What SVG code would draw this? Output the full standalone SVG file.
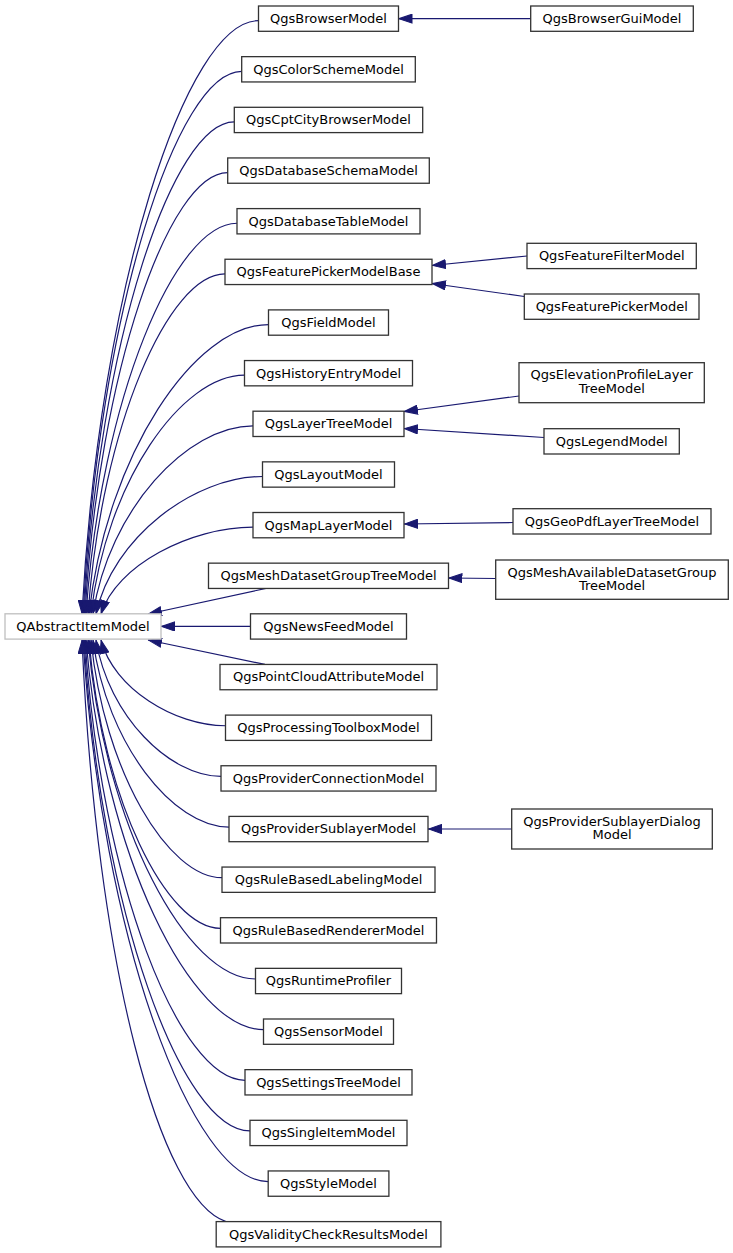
<svg xmlns="http://www.w3.org/2000/svg" width="733" height="1253" viewBox="0 0 733 1253">
<style>
.n rect{fill:#fff;stroke:#333;stroke-width:1.3}
.ext rect{fill:#fff;stroke:#bfbfbf;stroke-width:1.3}
text{font-family:"DejaVu Sans","Liberation Sans",sans-serif;font-size:13px;fill:#000;text-anchor:middle}
#edges path{fill:none;stroke:#191970;stroke-width:1.2;marker-end:url(#arr)}
</style>
<defs>
<marker id="arr" markerUnits="userSpaceOnUse" markerWidth="14" markerHeight="10" viewBox="0 0 13.5 9.6" refX="13.5" refY="4.8" orient="auto"><path d="M0.5,0.5 L13,4.8 L0.5,9.1 z" fill="#191970" stroke="#191970" stroke-width="1"/></marker>
</defs>
<rect width="733" height="1253" fill="#fff"/>
<g id="edges">
<path d="M258.5,20.65 C186.1,20.65 99.65,286.6 82,614"/>
<path d="M241.7,71.3 C176.6,71.3 98.9,314.4 83,614"/>
<path d="M234.3,121.95 C172.7,121.95 99,342.3 84,614"/>
<path d="M227.7,172.6 C169.2,172.6 99.3,370.1 85,614"/>
<path d="M237,223.25 C175.1,223.25 101.1,398 86,614"/>
<path d="M225,273.9 C168.8,273.9 101.7,425.8 88,614"/>
<path d="M268.5,324.55 C194.9,324.55 107,453.7 89,614"/>
<path d="M244.5,375.2 C181.6,375.2 106.4,481.6 91,614"/>
<path d="M253,425.85 C187.4,425.85 109,509.4 93,614"/>
<path d="M262.5,476.5 C194.2,476.5 112.7,537.3 96,614"/>
<path d="M253,527.15 C190.7,527.15 116.2,565.1 101,614"/>
<path d="M266,588.4 L148,614"/>
<path d="M250.5,626.45 L161,626.45"/>
<path d="M265,664.45 L148,640"/>
<path d="M225.5,725.75 C174.5,725.75 113.5,688.3 101,640"/>
<path d="M221,776.4 C169.7,776.4 108.5,716.1 96,640"/>
<path d="M229,827.05 C173.2,827.05 106.6,744 93,640"/>
<path d="M222,877.7 C168.3,877.7 104.1,771.8 91,640"/>
<path d="M220.5,928.35 C166.6,928.35 102.2,799.7 89,640"/>
<path d="M255.5,979 C186.8,979 104.8,827.5 88,640"/>
<path d="M263.5,1029.65 C190.7,1029.65 103.8,855.4 86,640"/>
<path d="M245,1080.3 C179.4,1080.3 101,883.3 85,640"/>
<path d="M250,1130.95 C181.9,1130.95 100.6,911.1 84,640"/>
<path d="M268.2,1181.6 C192.3,1181.6 101.5,939 83,640"/>
<path d="M226,1221.6 C160,1200 96.4,966.8 82,640"/>
<path d="M530.7,18.65 L398.5,18.65"/>
<path d="M527,256 L432,265.5"/>
<path d="M524.3,296.5 L432,283.5"/>
<path d="M519,396 L404,411.5"/>
<path d="M544,437.5 L404,428.5"/>
<path d="M513,522.5 L404,524"/>
<path d="M495.7,578.5 L448.5,578"/>
<path d="M511.7,829 L428,829"/>
</g>
<g id="QAbstractItemModel" class="ext"><rect x="5" y="613.8" width="156" height="25.3"/><text x="83" y="630.8">QAbstractItemModel</text></g>
<g id="QgsBrowserModel" class="n"><rect x="258.5" y="6" width="140" height="25.3"/><text x="328.5" y="23">QgsBrowserModel</text></g>
<g id="QgsColorSchemeModel" class="n"><rect x="241.7" y="56.65" width="173.6" height="25.3"/><text x="328.5" y="73.65">QgsColorSchemeModel</text></g>
<g id="QgsCptCityBrowserModel" class="n"><rect x="234.3" y="107.3" width="188.4" height="25.3"/><text x="328.5" y="124.3">QgsCptCityBrowserModel</text></g>
<g id="QgsDatabaseSchemaModel" class="n"><rect x="227.7" y="157.95" width="201.6" height="25.3"/><text x="328.5" y="174.95">QgsDatabaseSchemaModel</text></g>
<g id="QgsDatabaseTableModel" class="n"><rect x="237" y="208.6" width="183" height="25.3"/><text x="328.5" y="225.6">QgsDatabaseTableModel</text></g>
<g id="QgsFeaturePickerModelBase" class="n"><rect x="225" y="259.25" width="207" height="25.3"/><text x="328.5" y="276.25">QgsFeaturePickerModelBase</text></g>
<g id="QgsFieldModel" class="n"><rect x="268.5" y="309.9" width="120" height="25.3"/><text x="328.5" y="326.9">QgsFieldModel</text></g>
<g id="QgsHistoryEntryModel" class="n"><rect x="244.5" y="360.55" width="168" height="25.3"/><text x="328.5" y="377.55">QgsHistoryEntryModel</text></g>
<g id="QgsLayerTreeModel" class="n"><rect x="253" y="411.2" width="151" height="25.3"/><text x="328.5" y="428.2">QgsLayerTreeModel</text></g>
<g id="QgsLayoutModel" class="n"><rect x="262.5" y="461.85" width="132" height="25.3"/><text x="328.5" y="478.85">QgsLayoutModel</text></g>
<g id="QgsMapLayerModel" class="n"><rect x="253" y="512.5" width="151" height="25.3"/><text x="328.5" y="529.5">QgsMapLayerModel</text></g>
<g id="QgsMeshDatasetGroupTreeModel" class="n"><rect x="208.5" y="563.15" width="240" height="25.3"/><text x="328.5" y="580.15">QgsMeshDatasetGroupTreeModel</text></g>
<g id="QgsNewsFeedModel" class="n"><rect x="250.5" y="613.8" width="156" height="25.3"/><text x="328.5" y="630.8">QgsNewsFeedModel</text></g>
<g id="QgsPointCloudAttributeModel" class="n"><rect x="220" y="664.45" width="217" height="25.3"/><text x="328.5" y="681.45">QgsPointCloudAttributeModel</text></g>
<g id="QgsProcessingToolboxModel" class="n"><rect x="225.5" y="715.1" width="206" height="25.3"/><text x="328.5" y="732.1">QgsProcessingToolboxModel</text></g>
<g id="QgsProviderConnectionModel" class="n"><rect x="221" y="765.75" width="215" height="25.3"/><text x="328.5" y="782.75">QgsProviderConnectionModel</text></g>
<g id="QgsProviderSublayerModel" class="n"><rect x="229" y="816.4" width="199" height="25.3"/><text x="328.5" y="833.4">QgsProviderSublayerModel</text></g>
<g id="QgsRuleBasedLabelingModel" class="n"><rect x="222" y="867.05" width="213" height="25.3"/><text x="328.5" y="884.05">QgsRuleBasedLabelingModel</text></g>
<g id="QgsRuleBasedRendererModel" class="n"><rect x="220.5" y="917.7" width="216" height="25.3"/><text x="328.5" y="934.7">QgsRuleBasedRendererModel</text></g>
<g id="QgsRuntimeProfiler" class="n"><rect x="255.5" y="968.35" width="146" height="25.3"/><text x="328.5" y="985.35">QgsRuntimeProfiler</text></g>
<g id="QgsSensorModel" class="n"><rect x="263.5" y="1019" width="130" height="25.3"/><text x="328.5" y="1036">QgsSensorModel</text></g>
<g id="QgsSettingsTreeModel" class="n"><rect x="245" y="1069.65" width="167" height="25.3"/><text x="328.5" y="1086.65">QgsSettingsTreeModel</text></g>
<g id="QgsSingleItemModel" class="n"><rect x="250" y="1120.3" width="157" height="25.3"/><text x="328.5" y="1137.3">QgsSingleItemModel</text></g>
<g id="QgsStyleModel" class="n"><rect x="268.2" y="1170.95" width="120.7" height="25.3"/><text x="328.5" y="1187.95">QgsStyleModel</text></g>
<g id="QgsValidityCheckResultsModel" class="n"><rect x="216.2" y="1221.6" width="224.7" height="25.3"/><text x="328.5" y="1238.6">QgsValidityCheckResultsModel</text></g>
<g id="QgsBrowserGuiModel" class="n"><rect x="530.7" y="6" width="162.6" height="25.3"/><text x="612" y="23">QgsBrowserGuiModel</text></g>
<g id="QgsFeatureFilterModel" class="n"><rect x="527" y="243.3" width="169.3" height="25.3"/><text x="611.7" y="260.3">QgsFeatureFilterModel</text></g>
<g id="QgsFeaturePickerModel" class="n"><rect x="524.3" y="294" width="174.7" height="25.3"/><text x="611.7" y="311">QgsFeaturePickerModel</text></g>
<g id="QgsElevationProfileLayerTreeModel" class="n"><rect x="519" y="362.7" width="185.3" height="40"/><text x="611.7" y="379.3">QgsElevationProfileLayer</text><text x="611.7" y="392.7">TreeModel</text></g>
<g id="QgsLegendModel" class="n"><rect x="544" y="428.7" width="135.3" height="25.3"/><text x="611.7" y="445.7">QgsLegendModel</text></g>
<g id="QgsGeoPdfLayerTreeModel" class="n"><rect x="513" y="508.7" width="198" height="25.3"/><text x="612" y="525.7">QgsGeoPdfLayerTreeModel</text></g>
<g id="QgsMeshAvailableDatasetGroupTreeModel" class="n"><rect x="495.7" y="560" width="232.6" height="39.3"/><text x="612" y="576.6">QgsMeshAvailableDatasetGroup</text><text x="612" y="590">TreeModel</text></g>
<g id="QgsProviderSublayerDialogModel" class="n"><rect x="511.7" y="809" width="200.6" height="40"/><text x="612" y="825.6">QgsProviderSublayerDialog</text><text x="612" y="839">Model</text></g>
</svg>
